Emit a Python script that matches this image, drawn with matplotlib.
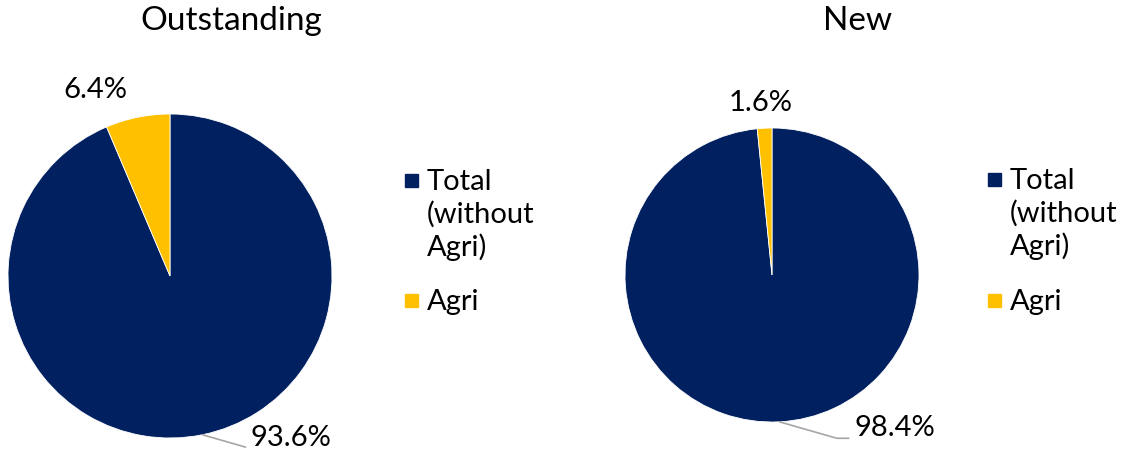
import numpy as np
import matplotlib.pyplot as plt
from matplotlib.patches import Rectangle

plt.rcParams['font.family'] = ['Lato', 'DejaVu Sans']

titles = ["Outstanding", "New"]
categories = ["Total\n(without\nAgri)", "Agri"]
outstanding = [93.6, 6.4]
new = [98.4, 1.6]
colors = ["#002060", "#FFC000"]

fig = plt.figure(figsize=(11.22, 4.5), dpi=100)

# pie boxes in pixels: (cx, cy, r)
boxes = [(170, 276, 162), (772, 275, 147)]
W, H = 1122, 450

def legend(x0, ys):
    for c, lab, y in zip(colors, categories, ys):
        fig.patches.append(Rectangle(((x0) / W, (H - y - 6.5) / H), 13 / W, 13 / H,
                                     color=c, transform=fig.transFigure))
        fig.text((x0 + 22) / W, (H - y + 11) / H, lab, fontsize=21, ha='left',
                 va='top', linespacing=1.27)

def draw(ax, vals, title, title_x, big_txt, small_txt):
    wedges, _ = ax.pie(vals, colors=colors, startangle=90, counterclock=False,
                       wedgeprops=dict(edgecolor='white', linewidth=0.6))
    ax.set_xlim(-1, 1)
    ax.set_ylim(-1, 1)
    ax.set_aspect('equal')
    # big slice label with leader
    w = wedges[0]
    ang = np.deg2rad((w.theta1 + w.theta2) / 2)
    x, y = np.cos(ang), np.sin(ang)
    ax.annotate(f"{vals[0]:.1f}%", xy=(x, y), xytext=big_txt, fontsize=21,
                ha='left', va='center', annotation_clip=False,
                arrowprops=dict(arrowstyle='-', color='#A6A6A6', lw=1.2,
                                relpos=(0, 0.1), shrinkA=2, shrinkB=0,
                                connectionstyle="angle,angleA=0,angleB=-16"))
    # small slice label
    w = wedges[1]
    ang = np.deg2rad((w.theta1 + w.theta2) / 2)
    x, y = np.cos(ang), np.sin(ang)
    ax.text(x + small_txt[0], y + small_txt[1], f"{vals[1]:.1f}%", fontsize=21,
            ha='center', va='center')
    fig.text(title_x, 1 - 21 / H, title, fontsize=24, ha='center', va='center')

for i, (vals, title) in enumerate(zip([outstanding, new], titles)):
    cx, cy, r = boxes[i]
    ax = fig.add_axes([(cx - r) / W, (H - cy - r) / H, 2 * r / W, 2 * r / H])
    if i == 0:
        draw(ax, vals, title, 231 / W, (0.5, -1.0), (-0.26, 0.17))
        legend(405, [180, 300])
    else:
        draw(ax, vals, title, 858 / W, (0.56, -1.04), (-0.03, 0.17))
        legend(988, [179, 300])

fig.savefig("out.png", dpi=100)
